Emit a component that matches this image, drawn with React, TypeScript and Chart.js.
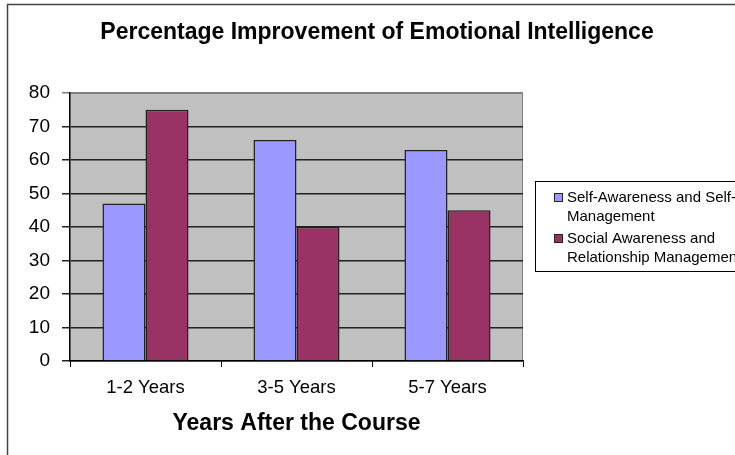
import React, { useEffect, useRef } from 'react';
import { Chart, registerables } from 'chart.js';

Chart.register(...registerables);

const chartTitle = 'Percentage Improvement of Emotional Intelligence';
const xAxisTitle = 'Years After the Course';
const categories = ['1-2 Years', '3-5 Years', '5-7 Years'];
const selfAwareness = [47, 66, 63];
const socialAwareness = [75, 40, 45];
const seriesOneLines = ['Self-Awareness and Self-', 'Management'];
const seriesTwoLines = ['Social Awareness and', 'Relationship Management'];
const yMin = 0;
const yMax = 80;
const yStep = 10;

const FONT = "'Liberation Sans', Arial, sans-serif";

const decorPlugin = {
  id: 'decor',
  beforeDraw(chart: any) {
    const { ctx, chartArea: a } = chart;
    ctx.save();
    ctx.fillStyle = '#ffffff';
    ctx.fillRect(0, 0, chart.width, chart.height);
    ctx.strokeStyle = '#444444';
    ctx.lineWidth = 1.5;
    ctx.strokeRect(7.5, 4.5, 800, 600);
    ctx.fillStyle = '#C0C0C0';
    ctx.fillRect(a.left, a.top, a.right - a.left, a.bottom - a.top);
    ctx.strokeStyle = '#808080';
    ctx.lineWidth = 1;
    ctx.beginPath();
    ctx.moveTo(a.left, a.top + 0.5);
    ctx.lineTo(a.right - 0.5, a.top + 0.5);
    ctx.lineTo(a.right - 0.5, a.bottom);
    ctx.stroke();
    ctx.restore();
  },
  afterDraw(chart: any) {
    const { ctx, chartArea: a } = chart;
    ctx.save();
    ctx.fillStyle = '#000000';
    ctx.textAlign = 'center';
    ctx.textBaseline = 'middle';
    ctx.font = `bold 23px ${FONT}`;
    ctx.fillText(chartTitle, 377, 33);
    ctx.font = `bold 23px ${FONT}`;
    ctx.fillText(xAxisTitle, (a.left + a.right) / 2, 424);

    // legend
    ctx.strokeStyle = '#000000';
    ctx.lineWidth = 1;
    ctx.strokeRect(535.5, 181.5, 260, 90);
    const groups = [seriesOneLines, seriesTwoLines];
    ctx.textAlign = 'left';
    ctx.font = `15px ${FONT}`;
    groups.forEach((lines, i) => {
      const ds = chart.data.datasets[i];
      const y0 = 197.5 + i * 41;
      ctx.fillStyle = ds.backgroundColor;
      ctx.fillRect(554, y0 - 4.5, 9, 9);
      ctx.strokeStyle = '#222222';
      ctx.strokeRect(554.5, y0 - 4, 8, 8);
      ctx.fillStyle = '#000000';
      lines.forEach((t, j) => {
        ctx.fillText(t, 567, y0 + j * 19.5);
      });
    });
    ctx.restore();
  },
};

export default function App() {
  const ref = useRef<HTMLCanvasElement>(null);
  useEffect(() => {
    if (!ref.current) return;
    const chart = new Chart(ref.current, {
      type: 'bar',
      data: {
        labels: categories,
        datasets: [
          {
            label: seriesOneLines.join(' '),
            data: selfAwareness,
            backgroundColor: '#9999FF',
            borderColor: '#222222',
            borderWidth: 1.5,
            categoryPercentage: 0.57,
            barPercentage: 1,
          },
          {
            label: seriesTwoLines.join(' '),
            data: socialAwareness,
            backgroundColor: '#993366',
            borderColor: '#222222',
            borderWidth: 1.5,
            categoryPercentage: 0.57,
            barPercentage: 1,
          },
        ],
      },
      options: {
        responsive: false,
        animation: false,
        layout: { padding: { top: 93, right: 212, left: 0, bottom: 0 } },
        plugins: {
          legend: { display: false },
          title: { display: false },
          tooltip: { enabled: false },
        },
        scales: {
          x: {
            afterFit: (s: any) => {
              s.height = 94;
            },
            grid: {
              offset: true,
              drawOnChartArea: false,
              drawTicks: true,
              tickLength: 6,
              color: '#000000',
            },
            border: { display: true, color: '#000000', width: 1.5 },
            ticks: {
              color: '#000000',
              font: { family: FONT, size: 18.5 },
              padding: 10,
              maxRotation: 0,
            },
          },
          y: {
            min: yMin,
            max: yMax,
            afterFit: (s: any) => {
              s.width = 70;
            },
            grid: {
              color: (c: any) => (c.tick && c.tick.value === yMax ? '#808080' : '#222222'),
              drawTicks: true,
              tickLength: 8,
              lineWidth: 1.5,
            },
            border: { display: true, color: '#000000', width: 1.5 },
            ticks: {
              stepSize: yStep,
              color: '#000000',
              font: { family: FONT, size: 19 },
              padding: 12,
            },
          },
        },
      },
      plugins: [decorPlugin],
    });
    return () => chart.destroy();
  }, []);
  return (
    <div style={{ position: 'absolute', left: 0, top: 0, width: 735, height: 455 }}>
      <canvas ref={ref} width={735} height={455} style={{ display: 'block' }} />
    </div>
  );
}
